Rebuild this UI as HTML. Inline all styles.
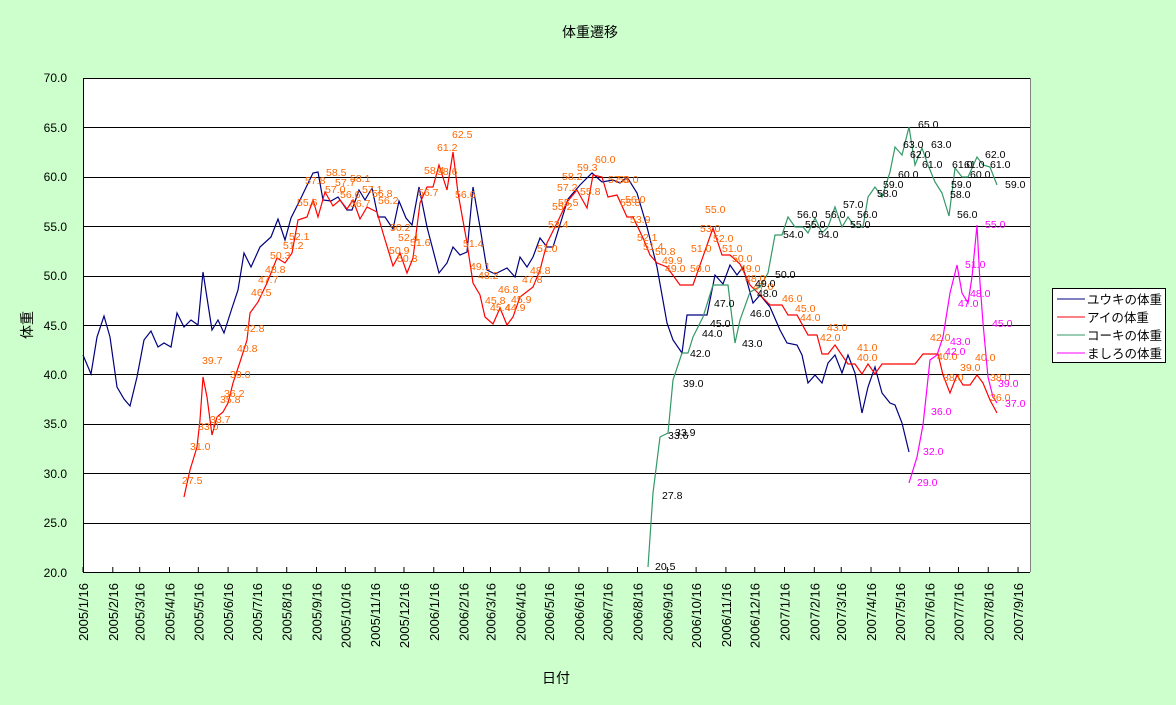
<!DOCTYPE html>
<html><head><meta charset="utf-8"><style>
html,body{margin:0;padding:0;background:#CCFFCC;}
svg{display:block;font-family:"Liberation Sans","Noto Sans CJK JP",sans-serif;}
.o{fill:#FF6600;font-size:10.5px}.k{fill:#000;font-size:10.5px}.m{fill:#FF00FF;font-size:10.5px}
</style></head><body>
<svg width="1176" height="705" viewBox="0 0 1176 705">
<rect x="0" y="0" width="1176" height="705" fill="#CCFFCC"/>
<text x="590" y="37" font-size="14" text-anchor="middle">体重遷移</text>
<rect x="83" y="78" width="947" height="494" fill="#fff"/>
<g stroke="#000" stroke-width="1">
<line x1="83" y1="78.5" x2="1030" y2="78.5"/><line x1="83" y1="127.5" x2="1030" y2="127.5"/>
<line x1="83" y1="177.5" x2="1030" y2="177.5"/><line x1="83" y1="226.5" x2="1030" y2="226.5"/>
<line x1="83" y1="276.5" x2="1030" y2="276.5"/><line x1="83" y1="325.5" x2="1030" y2="325.5"/>
<line x1="83" y1="374.5" x2="1030" y2="374.5"/><line x1="83" y1="424.5" x2="1030" y2="424.5"/>
<line x1="83" y1="473.5" x2="1030" y2="473.5"/><line x1="83" y1="523.5" x2="1030" y2="523.5"/>
<line x1="83" y1="572.5" x2="1030" y2="572.5"/><line x1="83.5" y1="78" x2="83.5" y2="572"/>
<line x1="1030.5" y1="78" x2="1030.5" y2="572" stroke="#808080"/>
</g>
<g font-size="12" text-anchor="end">
<text x="67" y="82">70.0</text><text x="67" y="132">65.0</text><text x="67" y="181">60.0</text>
<text x="67" y="231">55.0</text><text x="67" y="280">50.0</text><text x="67" y="330">45.0</text>
<text x="67" y="379">40.0</text><text x="67" y="428">35.0</text><text x="67" y="478">30.0</text>
<text x="67" y="527">25.0</text><text x="67" y="577">20.0</text>
</g>
<g id="ticks" stroke="#000"></g>
<g id="xl" font-size="13"></g>
<text transform="translate(32,325) rotate(-90)" font-size="14" text-anchor="middle">体重</text>
<text x="556" y="683" font-size="14" text-anchor="middle">日付</text>
<g fill="none" stroke-width="1.2">
<polyline stroke="#000080" points="83,355 91,374 97,337 104,316 110,337 117,387 124,399 130,406 137,377 144,340 151,331 158,347 164,343 171,347 177,313 184,327 191,320 198,325 203,272 212,330 218,320 224,333 232,308 238,290 244,253 251,267 260,247 271,237 278,219 285,240 291,218 300,200 313,173 318,172 323,200 331,201 338,197 347,210 352,210 359,190 365,200 372,188 378,217 385,217 393,229 399,201 406,218 412,225 419,187 427,227 439,273 447,263 453,247 460,255 467,252 473,187 480,227 487,270 495,274 507,268 515,277 520,257 527,267 533,257 540,238 547,247 553,247 568,199 580,185 592,173 602,182 613,180 620,183 627,177 637,193 647,227 657,267 667,323 673,340 682,353 687,315 707,315 715,275 723,284 730,265 737,275 743,267 753,303 760,295 770,307 780,330 787,343 797,345 802,355 808,383 815,375 822,383 828,363 835,355 842,373 848,355 855,373 862,413 868,387 875,367 882,393 890,403 895,405 902,423 909,452"/>
<polyline stroke="#FF0000" points="184,497 190,470 197,447 200,420 203,377 207,397 212,435 217,417 223,412 228,403 233,383 240,362 247,340 250,313 258,302 267,283 277,258 285,263 292,253 298,220 307,217 313,200 318,217 325,192 333,206 340,200 347,209 353,200 360,219 367,207 377,212 383,233 393,266 400,253 407,273 413,258 420,203 427,187 433,187 439,165 447,190 453,152 458,193 467,243 473,283 480,295 485,317 493,324 500,308 507,325 513,317 520,297 533,287 540,270 547,243 557,223 567,202 577,190 587,208 593,175 602,177 608,197 617,195 627,217 633,217 643,238 650,255 657,263 667,267 680,285 693,285 713,228 722,255 730,255 740,264 750,285 760,295 770,305 782,305 788,315 797,315 808,335 817,335 822,354 828,354 835,345 848,364 855,364 862,374 868,364 875,374 882,364 915,364 923,354 938,354 943,375 950,393 957,375 963,385 970,385 977,375 983,383 990,400 997,413"/>
<polyline stroke="#339966" points="648,567 653,493 660,437 668,433 673,380 682,353 688,353 693,337 703,317 713,285 728,285 735,343 740,320 750,292 760,287 768,273 775,235 782,235 788,217 795,227 803,227 808,233 815,218 822,233 828,227 835,207 842,227 848,217 855,227 863,227 868,197 875,187 882,197 890,172 895,147 902,155 909,127 915,165 922,148 928,165 935,182 942,193 949,216 955,168 962,177 968,177 977,157 983,165 990,167 997,185"/>
<polyline stroke="#FF00FF" points="909,483 917,457 923,425 930,360 937,355 943,337 950,293 957,265 962,293 968,303 972,277 977,225 980,283 983,323 988,377 993,397 997,403"/>
</g>
<g id="lab"></g>
<rect x="1052.5" y="288.5" width="113" height="74" fill="#fff" stroke="#000"/>
<g font-size="12.5">
<line x1="1057" y1="299" x2="1085" y2="299" stroke="#000080"/><text x="1087" y="304">ユウキの体重</text>
<line x1="1057" y1="317" x2="1085" y2="317" stroke="#FF0000"/><text x="1087" y="322">アイの体重</text>
<line x1="1057" y1="335" x2="1085" y2="335" stroke="#339966"/><text x="1087" y="340">コーキの体重</text>
<line x1="1057" y1="353" x2="1085" y2="353" stroke="#FF00FF"/><text x="1087" y="358">ましろの体重</text>
</g>
</svg>
<script>
var ns="http://www.w3.org/2000/svg";
var t=document.getElementById("ticks"),xl=document.getElementById("xl");
var d0=Date.UTC(2005,0,16);
for(var i=0;i<33;i++){var y=2005+Math.floor(i/12),m=i%12;
var x=83+(Date.UTC(y,m,16)-d0)/86400000*0.961;
var l=document.createElementNS(ns,"line");l.setAttribute("x1",x);l.setAttribute("x2",x);l.setAttribute("y1",567);l.setAttribute("y2",572);t.appendChild(l);
var tx=document.createElementNS(ns,"text");tx.setAttribute("transform","translate("+(x+5)+",583) rotate(-90)");tx.setAttribute("text-anchor","end");tx.textContent=y+"/"+(m+1)+"/16";xl.appendChild(tx);}
var L=[["o",[[182,484,"27.5"],[190,450,"31.0"],[198,430,"33.0"],[210,423,"33.7"],[220,403,"35.8"],[224,397,"36.2"],[202,364,"39.7"],[230,378,"39.0"],[237,352,"40.8"],[244,332,"42.8"],[251,296,"46.5"],[258,283,"47.7"],[265,273,"48.8"],[270,259,"50.3"],[283,249,"51.2"],[289,240,"52.1"],[297,206,"55.6"],[305,184,"57.8"],[326,176,"58.5"],[335,186,"57.7"],[325,193,"57.0"],[340,198,"56.6"],[350,182,"58.1"],[350,207,"56.7"],[362,193,"57.1"],[372,197,"56.8"],[378,204,"56.2"],[390,231,"50.2"],[398,241,"52.4"],[389,254,"50.9"],[397,262,"50.3"],[410,246,"51.6"],[418,196,"56.7"],[424,174,"58.4"],[437,151,"61.2"],[452,138,"62.5"],[437,175,"58.6"],[455,198,"56.6"],[463,247,"51.4"],[470,270,"49.1"],[478,279,"48.2"],[498,293,"46.8"],[485,304,"45.8"],[490,311,"45.4"],[511,303,"45.9"],[505,311,"44.9"],[522,283,"47.8"],[530,274,"48.8"],[537,252,"51.0"],[548,228,"53.4"],[552,210,"55.2"],[558,206,"55.5"],[557,191,"57.2"],[562,180,"58.2"],[577,171,"59.3"],[595,163,"60.0"],[580,195,"55.8"],[608,183,"57.3"],[618,183,"58.0"],[625,203,"56.0"],[620,206,"55.8"],[630,223,"53.9"],[637,241,"52.1"],[643,250,"51.4"],[655,255,"50.8"],[662,264,"49.9"],[665,272,"49.0"],[690,272,"50.0"],[700,232,"53.0"],[705,213,"55.0"],[691,252,"51.0"],[713,242,"52.0"],[722,252,"51.0"],[732,262,"50.0"],[740,272,"49.0"],[745,282,"48.0"],[753,290,"47.0"],[782,302,"46.0"],[795,312,"45.0"],[800,321,"44.0"],[827,331,"43.0"],[820,341,"42.0"],[857,351,"41.0"],[857,361,"40.0"],[930,341,"42.0"],[937,360,"40.0"],[943,381,"38.0"],[960,371,"39.0"],[975,361,"40.0"],[990,381,"38.0"],[990,401,"36.0"]]],
["k",[[655,570,"20.5"],[662,499,"27.8"],[675,436,"33.9"],[668,439,"33.6"],[683,387,"39.0"],[690,357,"42.0"],[702,337,"44.0"],[710,327,"45.0"],[714,307,"47.0"],[742,347,"43.0"],[750,317,"46.0"],[755,287,"49.0"],[757,297,"48.0"],[775,278,"50.0"],[783,238,"54.0"],[797,218,"56.0"],[805,228,"55.0"],[825,218,"56.0"],[818,238,"54.0"],[843,208,"57.0"],[857,218,"56.0"],[850,228,"55.0"],[877,197,"58.0"],[883,188,"59.0"],[898,178,"60.0"],[903,148,"63.0"],[910,158,"62.0"],[918,128,"65.0"],[931,148,"63.0"],[922,168,"61.0"],[952,168,"61.0"],[951,188,"59.0"],[950,198,"58.0"],[957,218,"56.0"],[964,168,"61.0"],[970,178,"60.0"],[985,158,"62.0"],[990,168,"61.0"],[1005,188,"59.0"]]],
["m",[[917,486,"29.0"],[923,455,"32.0"],[931,415,"36.0"],[950,345,"43.0"],[945,355,"42.0"],[965,268,"51.0"],[958,307,"47.0"],[970,297,"48.0"],[985,228,"55.0"],[992,327,"45.0"],[998,387,"39.0"],[1005,407,"37.0"]]]];
var g=document.getElementById("lab");
L.forEach(function(s){s[1].forEach(function(p){var e=document.createElementNS(ns,"text");e.setAttribute("x",p[0]);e.setAttribute("y",p[1]);e.setAttribute("class",s[0]);e.textContent=p[2];g.appendChild(e);});});
</script>
</body></html>
